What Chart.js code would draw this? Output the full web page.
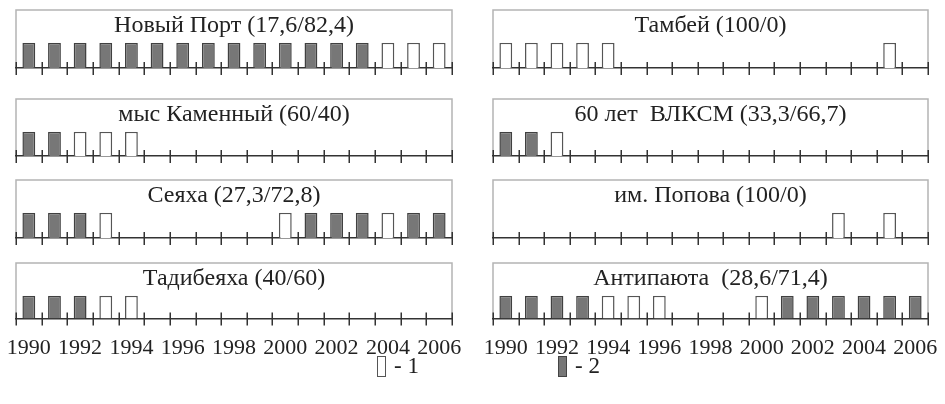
<!DOCTYPE html>
<html>
<head>
<meta charset="utf-8">
<script src="https://cdn.jsdelivr.net/npm/chart.js@4"></script>
<style>
  body { margin:0; background:#fff; width:945px; height:404px; position:relative; overflow:hidden; font-family:"Liberation Serif", "Times New Roman", serif; }
  .panel { position:absolute; }
  .left  { left:0; width:472px; }
  .right { left:472px; width:473px; }
  .leg { position:absolute; font-size:23px; color:#222; line-height:24px; }
  .sw { position:absolute; width:9px; height:21px; box-sizing:border-box; border:1.5px solid #555; background:#fff; }
  .sw.dark { background:#777; border-color:#444; }
</style>
</head>
<body>

<div class="panel left"  style="top:9px;height:66px"><canvas id="c1"></canvas></div>
<div class="panel right" style="top:9px;height:66px"><canvas id="c2"></canvas></div>
<div class="panel left"  style="top:98px;height:65px"><canvas id="c3"></canvas></div>
<div class="panel right" style="top:98px;height:65px"><canvas id="c4"></canvas></div>
<div class="panel left"  style="top:179px;height:66px"><canvas id="c5"></canvas></div>
<div class="panel right" style="top:179px;height:66px"><canvas id="c6"></canvas></div>
<div class="panel left"  style="top:262px;height:99px"><canvas id="c7"></canvas></div>
<div class="panel right" style="top:262px;height:99px"><canvas id="c8"></canvas></div>

<div class="sw" style="left:377px;top:356px"></div>
<div class="leg" style="left:394px;top:354px">- 1</div>
<div class="sw dark" style="left:558px;top:356px"></div>
<div class="leg" style="left:575px;top:354px">- 2</div>

<script>
// years on the axis and which of them get a label
const years = ['1990','1991','1992','1993','1994','1995','1996','1997','1998',
               '1999','2000','2001','2002','2003','2004','2005','2006'];
const tickYears = ['1990','1992','1994','1996','1998','2000','2002','2004','2006'];

// 0 = no data, 1 = type 1 (open bar), 2 = type 2 (dark bar)
const novyPort   = [2,2,2,2,2,2,2,2,2,2,2,2,2,2,1,1,1];
const tambey     = [1,1,1,1,1,0,0,0,0,0,0,0,0,0,0,1,0];
const kamenny    = [2,2,1,1,1,0,0,0,0,0,0,0,0,0,0,0,0];
const vlksm      = [2,2,1,0,0,0,0,0,0,0,0,0,0,0,0,0,0];
const seyakha    = [2,2,2,1,0,0,0,0,0,0,1,2,2,2,1,2,2];
const popova     = [0,0,0,0,0,0,0,0,0,0,0,0,0,1,0,1,0];
const tadibeyakha= [2,2,2,1,1,0,0,0,0,0,0,0,0,0,0,0,0];
const antipayuta = [2,2,2,2,1,1,1,0,0,0,1,2,2,2,2,2,2];

const titles = [
  'Новый Порт (17,6/82,4)', 'Тамбей (100/0)',
  'мыс Каменный (60/40)', '60 лет  ВЛКСМ (33,3/66,7)',
  'Сеяха (27,3/72,8)', 'им. Попова (100/0)',
  'Тадибеяха (40/60)', 'Антипаюта  (28,6/71,4)'
];

// grey frame around title + plot, down to the axis
const frameBox = {
  id: 'frameBox',
  beforeDraw(chart) {
    const a = chart.chartArea;
    const ctx = chart.ctx;
    ctx.save();
    ctx.strokeStyle = '#b4b4b4';
    ctx.lineWidth = 1.5;
    ctx.beginPath();
    ctx.moveTo(a.left, a.bottom);
    ctx.lineTo(a.left, 1);
    ctx.lineTo(a.right, 1);
    ctx.lineTo(a.right, a.bottom);
    ctx.stroke();
    ctx.restore();
  }
};

// tick marks crossing the axis at the category boundaries
const crossTicks = {
  id: 'crossTicks',
  afterDraw(chart) {
    const xs = chart.scales.x;
    const n = xs.getLabels().length;
    const step = (xs.right - xs.left) / n;
    const y = chart.chartArea.bottom;
    const ctx = chart.ctx;
    ctx.save();
    ctx.strokeStyle = '#333';
    ctx.lineWidth = 1.5;
    ctx.beginPath();
    for (let i = 0; i <= n; i++) {
      const x = Math.round(xs.left + i * step) + 0.25;
      ctx.moveTo(x, y - 6);
      ctx.lineTo(x, y + 7);
    }
    ctx.stroke();
    ctx.restore();
  }
};

function makeChart(id, title, codes, bottom, right) {
  const ctx = document.getElementById(id).getContext('2d');
  return new Chart(ctx, {
    type: 'bar',
    data: {
      labels: years,
      datasets: [{
        label: '1',
        data: codes.map(v => v === 1 ? 1 : null),
        backgroundColor: '#ffffff',
        borderColor: '#555',
        borderWidth: 1.5,
        barPercentage: 0.5,
        categoryPercentage: 1
      }, {
        label: '2',
        data: codes.map(v => v === 2 ? 1 : null),
        backgroundColor: '#777777',
        borderColor: '#404040',
        borderWidth: 1.5,
        barPercentage: 0.5,
        categoryPercentage: 1
      }]
    },
    options: {
      responsive: true,
      maintainAspectRatio: false,
      animation: false,
      layout: { padding: right ? { left: 21, right: 17, top: 0, bottom: 0 }
                               : { left: 16, right: 20, top: 0, bottom: 0 } },
      plugins: {
        legend: { display: false },
        tooltip: { enabled: false },
        title: {
          display: true,
          text: title,
          color: '#222',
          font: { family: 'Liberation Serif', size: 24, weight: 'normal' },
          padding: { top: 2, bottom: 3 }
        }
      },
      scales: {
        x: {
          stacked: true,
          offset: true,
          z: 1,
          border: { display: true, color: '#333', width: 1.5 },
          // grid ticks only reserve room under the axis; the marks come from crossTicks
          grid: { display: true, offset: true, drawOnChartArea: false, drawTicks: true,
                  tickLength: bottom ? 16 : 7, color: 'rgba(0,0,0,0)' },
          ticks: {
            display: bottom,
            autoSkip: false,
            maxRotation: 0,
            padding: 0,
            color: '#222',
            font: { family: 'Liberation Serif', size: 22 },
            callback: function (val) {
              const y = this.getLabelForValue(val);
              return tickYears.includes(y) ? y : '';
            }
          }
        },
        y: { display: false, stacked: true, min: 0, max: 1 }
      }
    },
    plugins: [frameBox, crossTicks]
  });
}

makeChart('c1', titles[0], novyPort, false, false);
makeChart('c2', titles[1], tambey, false, true);
makeChart('c3', titles[2], kamenny, false, false);
makeChart('c4', titles[3], vlksm, false, true);
makeChart('c5', titles[4], seyakha, false, false);
makeChart('c6', titles[5], popova, false, true);
makeChart('c7', titles[6], tadibeyakha, true, false);
makeChart('c8', titles[7], antipayuta, true, true);
</script>
</body>
</html>
